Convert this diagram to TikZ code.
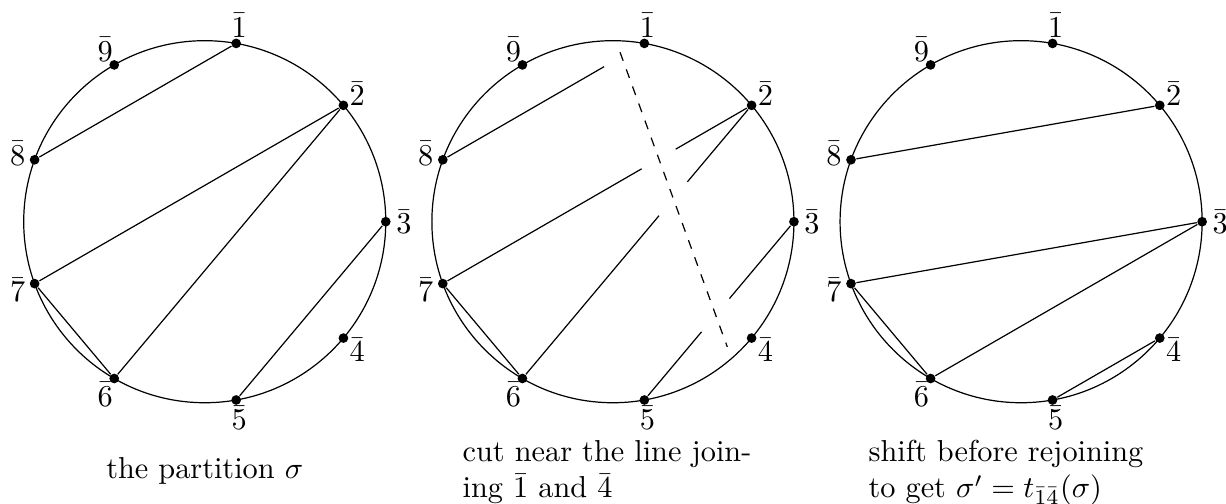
\documentclass[tikz,border=0pt]{standalone}
\usepackage{amsmath,amssymb}
\usepackage{tikz}
\usetikzlibrary{calc}

\begin{document}
\begin{tikzpicture}[
    dot/.style={circle, fill, inner sep=0pt, minimum size=3.2pt},
    captext/.style={inner sep=0pt, anchor=base west, align=left}]
    \useasboundingbox (-2.375,-3.274) rectangle (11.847,2.572);

    % three circles, nine points each
    \foreach \nm/\cx in {a/0, b/4.735, c/9.47} {
        \draw (\cx,0) circle (2.1cm);
        \foreach \k in {1,...,9} {
            \pgfmathsetmacro\ang{120-40*\k}
            \node[dot] (\nm\k) at ($(\cx,0)+(\ang:2.1cm)$) {};
            \node (\nm l\k) at ($(\cx,0)+(\ang:2.31cm)$) {$\bar{\k}$};
        }
    }

    % the partition sigma
    \draw (a1) -- (a8) (a2) -- (a7) (a2) -- (a6) (a7) -- (a6) (a3) -- (a5);

    % cut near the line joining 1 and 4
    \coordinate (cutA) at ($(b1)!0.3cm!-90:(b4)$);
    \coordinate (cutB) at ($(b4)!0.3cm!90:(b1)$);
    \draw[dashed] (cutA) -- (cutB);
    \draw (b7) -- (b6);
    \draw (b8) -- ($(b8)!0.8!(b1)$);
    \draw (b2) -- ($(b2)!0.246!(b7)$) ($(b7)!0.644!(b2)$) -- (b7);
    \draw (b2) -- ($(b2)!0.28!(b6)$) ($(b6)!0.596!(b2)$) -- (b6);
    \draw (b3) -- ($(b3)!0.431!(b5)$) ($(b5)!0.382!(b3)$) -- (b5);

    % after the shift
    \draw (c2) -- (c8) (c3) -- (c7) (c3) -- (c6) (c7) -- (c6) (c5) -- (c4);

    % captions
    \node[captext, anchor=base] (capa) at (0,-2.977) {the partition $\sigma$};
    \node[captext] (capb) at (2.985,-3.205) {cut near the line join-\\ing $\bar{1}$ and $\bar{4}$};
    \node[captext] (capc) at (7.694,-3.205) {shift before rejoining\\to get $\sigma'=t_{\bar{1}\bar{4}}(\sigma)$};
\end{tikzpicture}
\end{document}
